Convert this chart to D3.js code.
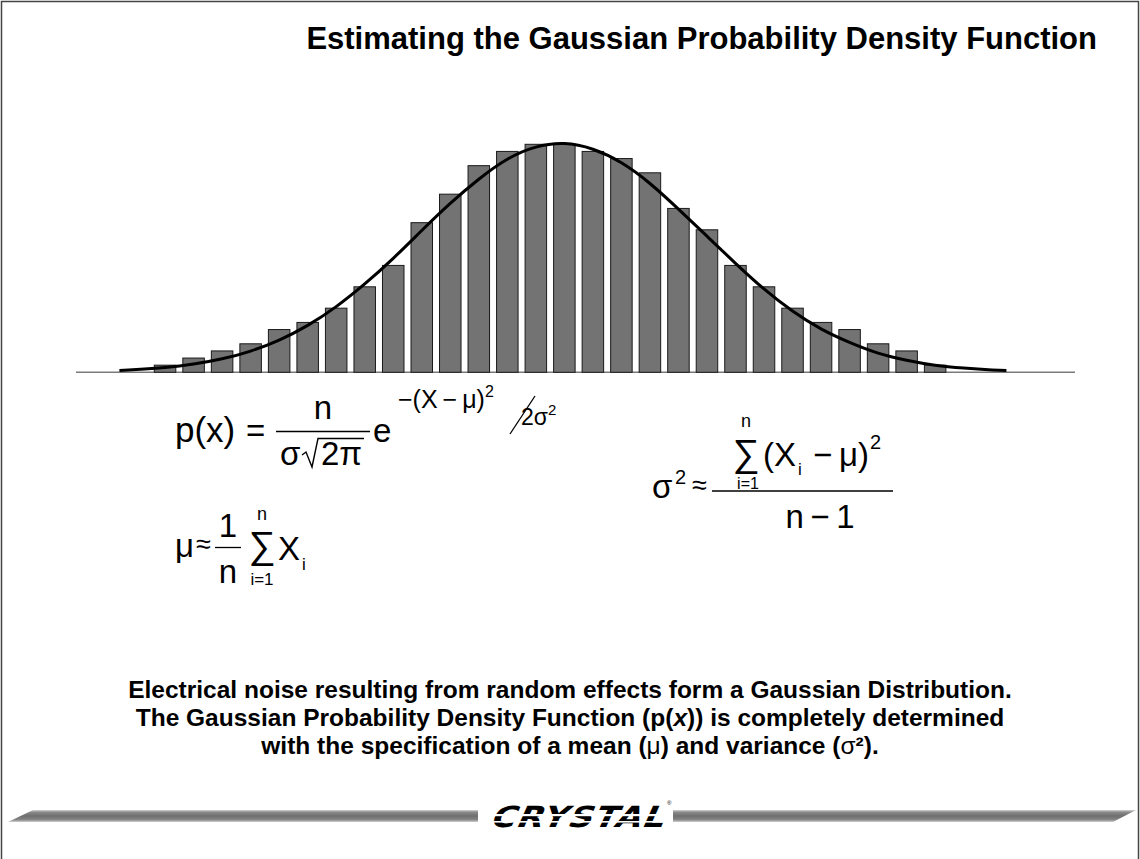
<!DOCTYPE html>
<html>
<head>
<meta charset="utf-8">
<script src="https://cdn.jsdelivr.net/npm/d3@7"></script>
<style>
  body { margin: 0; background: #fff; }
  svg { display: block; }
</style>
</head>
<body>
<svg id="chart" width="1140" height="859"></svg>
<script>
// Histogram of sample counts per bin
const binCounts = [1, 2, 3, 4, 6, 7, 9, 12, 15, 21, 25, 29, 31, 32, 32, 31, 30, 28, 23, 20, 15, 12, 9, 7, 6, 4, 3, 1];
// Fitted density outline: bin position and height (in counts)
const curveBins = [-1.6, -1, 0, 1, 2, 3, 4, 5, 6, 7, 8, 9, 10, 11, 12, 13, 14, 15, 16, 17, 18, 19, 20, 21, 22, 23, 24, 25, 26, 27, 28, 29, 29.5];
const curveCounts = [0.26, 0.38, 0.67, 1.15, 1.89, 2.98, 4.52, 6.58, 9.22, 12.4, 16.0, 19.9, 23.7, 27.1, 29.9, 31.6, 32.1, 31.3, 29.4, 26.5, 22.9, 19.1, 15.3, 11.7, 8.6, 6.1, 4.2, 2.7, 1.7, 1.0, 0.6, 0.34, 0.25];
const titleText = "Estimating the Gaussian Probability Density Function";
const captionLine1 = "Electrical noise resulting from random effects form a Gaussian Distribution.";

const svg = d3.select("#chart");
const FONT = "'Liberation Sans', Arial, Helvetica, sans-serif";

// page frame
svg.append("path")
  .attr("d", "M1.5,859 V1.5 H1138.5 V859")
  .attr("fill", "none").attr("stroke", "#444").attr("stroke-width", 1.5);

// title
svg.append("text")
  .attr("x", 1097).attr("y", 49)
  .attr("text-anchor", "end")
  .attr("font-family", FONT).attr("font-weight", "bold").attr("font-size", 31)
  .text(titleText);

// ---- histogram ----
const x = d3.scaleBand()
  .domain(d3.range(binCounts.length))
  .range([150.8, 949.4])
  .paddingInner(0.246)
  .paddingOuter(0.123);
const xc = d3.scaleLinear()
  .domain([-0.5, binCounts.length - 0.5])
  .range([150.8, 949.4]);
const y = d3.scaleLinear().domain([0, 32]).range([372.3, 144.3]);

// baseline
svg.append("line")
  .attr("x1", 76).attr("x2", 1075)
  .attr("y1", y(0)).attr("y2", y(0))
  .attr("stroke", "#7a7a7a").attr("stroke-width", 1.6);

svg.append("g").selectAll("rect")
  .data(binCounts)
  .join("rect")
  .attr("x", (d, i) => x(i))
  .attr("y", d => y(d))
  .attr("width", x.bandwidth())
  .attr("height", d => y(0) - y(d))
  .attr("fill", "#737373")
  .attr("stroke", "#1a1a1a")
  .attr("stroke-width", 1);

const line = d3.line()
  .x((d, i) => xc(curveBins[i]))
  .y(d => y(d))
  .curve(d3.curveNatural);
svg.append("path")
  .datum(curveCounts)
  .attr("d", line)
  .attr("fill", "none")
  .attr("stroke", "#000")
  .attr("stroke-width", 3);

// ---- formulas ----
function txt(g, s, px, py, size, opts = {}) {
  return g.append("text")
    .attr("x", px).attr("y", py)
    .attr("font-family", FONT)
    .attr("font-size", size)
    .attr("text-anchor", opts.anchor || "start")
    .text(s);
}
function rule(g, x1, x2, yy, w = 1.5) {
  g.append("line").attr("x1", x1).attr("x2", x2).attr("y1", yy).attr("y2", yy)
    .attr("stroke", "#000").attr("stroke-width", w);
}

// p(x) = n / (σ√2π) e^(−(X−μ)²/2σ²)
const f1 = svg.append("g");
txt(f1, "p(x)", 175, 442, 35);
txt(f1, "=", 246, 442, 33);
txt(f1, "n", 323, 419, 33, { anchor: "middle" });
rule(f1, 276, 370, 431.5);
txt(f1, "σ", 280, 465, 33);
f1.append("path")
  .attr("d", "M302,455 L306,452 L312,467 L318,438.5 L364,438.5")
  .attr("fill", "none").attr("stroke", "#000").attr("stroke-width", 1.4);
txt(f1, "2π", 321, 465, 33);
txt(f1, "e", 373, 442, 33);
const ex = txt(f1, "−(X\u2009−\u2009μ)", 398, 408, 25);
ex.append("tspan").attr("dy", -11).attr("font-size", 16).text("2");
f1.append("line").attr("x1", 510).attr("y1", 434).attr("x2", 535).attr("y2", 396)
  .attr("stroke", "#000").attr("stroke-width", 1.3);
const ex2 = txt(f1, "2σ", 521, 425, 23);
ex2.append("tspan").attr("dy", -10).attr("font-size", 15).text("2");

// μ ≈ (1/n) Σ Xi
const f2 = svg.append("g");
txt(f2, "μ", 175, 557, 33);
txt(f2, "≈", 196, 553, 27);
txt(f2, "1", 228, 537, 33, { anchor: "middle" });
rule(f2, 215, 241, 547.5, 1.3);
txt(f2, "n", 228, 583, 33, { anchor: "middle" });
txt(f2, "n", 262, 520, 18, { anchor: "middle" });
txt(f2, "∑", 262, 558, 38, { anchor: "middle" });
txt(f2, "i=1", 262, 585, 17, { anchor: "middle" });
txt(f2, "X", 278, 560, 33);
txt(f2, "i", 302, 570, 17);

// σ² ≈ Σ(Xi − μ)² / (n − 1)
const f3 = svg.append("g");
txt(f3, "σ", 652, 498, 33);
txt(f3, "2", 675, 484, 20);
txt(f3, "≈", 692, 494, 27);
rule(f3, 712, 893, 491);
txt(f3, "n", 746, 427, 18, { anchor: "middle" });
txt(f3, "∑", 746, 466, 38, { anchor: "middle" });
txt(f3, "i=1", 748, 489, 16, { anchor: "middle" });
txt(f3, "(X", 763, 466, 33);
txt(f3, "i", 798, 475, 17);
txt(f3, "−\u2009μ)", 813, 466, 33);
txt(f3, "2", 870, 449, 20);
txt(f3, "n\u2009−\u20091", 820, 528, 33, { anchor: "middle" });

// ---- caption ----
const cap = svg.append("g")
  .attr("font-family", FONT).attr("font-weight", "bold").attr("font-size", 24.5)
  .attr("text-anchor", "middle");
cap.append("text").attr("x", 570).attr("y", 698).text(captionLine1);
const c2 = cap.append("text").attr("x", 570).attr("y", 726);
c2.append("tspan").text("The Gaussian Probability Density Function (p(");
c2.append("tspan").attr("font-style", "italic").text("x");
c2.append("tspan").text(")) is completely determined");
const c3 = cap.append("text").attr("x", 570).attr("y", 754);
c3.append("tspan").text("with the specification of a mean (");
c3.append("tspan").attr("font-weight", "normal").text("μ");
c3.append("tspan").text(") and variance (");
c3.append("tspan").attr("font-weight", "normal").text("σ");
c3.append("tspan").text("²).");

// ---- footer rules and logo ----
const defs = svg.append("defs");
const gr = defs.append("linearGradient").attr("id", "barGrad")
  .attr("x1", "0").attr("x2", "0").attr("y1", "0").attr("y2", "1");
[["0", "#d4d4d4"], ["0.18", "#8a8a8a"], ["0.5", "#6e6e6e"], ["0.8", "#858585"], ["1", "#cfcfcf"]]
  .forEach(([o, c]) => gr.append("stop").attr("offset", o).attr("stop-color", c));
svg.append("path").attr("d", "M8,822 L33,810 L478,810 L478,822 Z").attr("fill", "url(#barGrad)");
svg.append("path").attr("d", "M673,810 L1136,810 L1113,822 L673,822 Z").attr("fill", "url(#barGrad)");

const logo = svg.append("g");
logo.append("text")
  .attr("transform", "translate(576,827) skewX(-24) scale(1.25,1.08)")
  .attr("text-anchor", "middle")
  .attr("font-family", "'DejaVu Sans', sans-serif")
  .attr("font-weight", "bold")
  .attr("font-size", 27)
  .attr("letter-spacing", 1)
  .text("CRYSTAL");
[[814, 2.2], [821, 1.6]].forEach(([yy, h]) => {
  logo.append("rect").attr("x", 478).attr("y", yy).attr("width", 195).attr("height", h).attr("fill", "#fff");
});
logo.append("text").attr("x", 667).attr("y", 805)
  .attr("font-family", FONT).attr("font-size", 6).text("®");
</script>
</body>
</html>
